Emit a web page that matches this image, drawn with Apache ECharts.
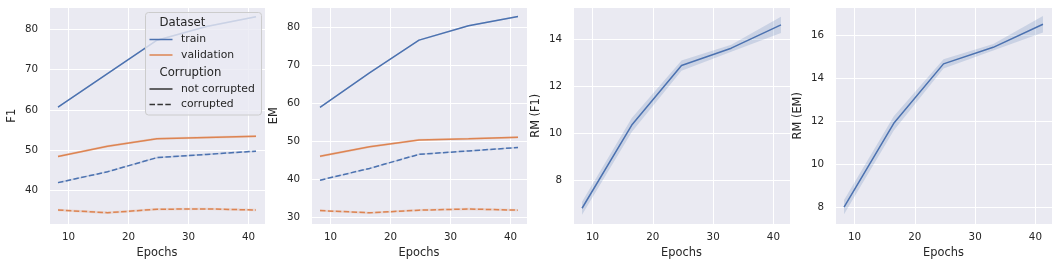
<!DOCTYPE html>
<html><head><meta charset="utf-8">
<script src="https://cdn.jsdelivr.net/npm/echarts@6/dist/echarts.min.js"></script>
<style>html,body{margin:0;padding:0;background:#fff}#c{width:1059px;height:268px}</style>
</head><body><div id="c"></div>
<script>
// ---- data ----
const epochs = [8.25, 16.5, 24.75, 33, 41.25];

const f1TrainClean = [60.7, 69.0, 77.3, 80.7, 83.1];
const f1ValClean   = [48.5, 51.0, 52.9, 53.2, 53.5];
const f1TrainCorr  = [42.0, 44.7, 48.2, 49.0, 49.8];
const f1ValCorr    = [35.2, 34.55, 35.4, 35.5, 35.2];

const emTrainClean = [58.9, 68.0, 76.6, 80.4, 82.8];
const emValClean   = [46.0, 48.5, 50.3, 50.6, 51.0];
const emTrainCorr  = [39.7, 42.8, 46.5, 47.4, 48.3];
const emValCorr    = [31.7, 31.1, 31.8, 32.1, 31.8];

const trainCI = [0.2, 0.2, 0.2, 0.2, 0.2];
const valCI   = [0.3, 0.3, 0.3, 0.3, 0.3];

const rmF1   = [6.81, 10.35, 12.88, 13.62, 14.61];
const rmF1CI = [0.28, 0.3, 0.22, 0.15, 0.35];
const rmEM   = [8.0, 11.9, 14.66, 15.43, 16.5];
const rmEMCI = [0.33, 0.33, 0.22, 0.15, 0.38];

const yNames = ['F1', 'EM', 'RM (F1)', 'RM (EM)'];
const xName = 'Epochs';
const datasetTitle = 'Dataset';
const corruptionTitle = 'Corruption';
const datasetLabels = ['train', 'validation'];
const corruptionLabels = ['not corrupted', 'corrupted'];

// ---- style ----
const BLUE = '#4C72B0', ORANGE = '#DD8452';
const BLUE_BAND = 'rgba(76,114,176,0.2)', ORANGE_BAND = 'rgba(221,132,82,0.2)';
const TXT = '#262626';
const FONT = 'DejaVu Sans';
const DASH = [5.5, 2.4];
const TICK_FS = 10.3, LABEL_FS = 11.4;

const gridLefts = [49, 311, 573, 835];
const gridWidths = [216, 216, 217, 217];
const yRanges = [[31.75, 85.4], [28.15, 85.2], [6.14, 15.35], [7.22, 17.28]];

const grids = gridLefts.map((l, i) => ({left: l, top: 7.5, width: gridWidths[i], height: 216.5, show: true, backgroundColor: '#EAEAF2', borderWidth: 0}));

const xAxes = gridLefts.map((l, i) => ({
  type: 'value', gridIndex: i, min: 6.75, max: 42.75,
  name: xName, nameLocation: 'middle', nameGap: 24,
  nameTextStyle: {color: TXT, fontFamily: FONT, fontSize: LABEL_FS},
  axisLine: {show: false}, axisTick: {show: false},
  axisLabel: {color: TXT, fontFamily: FONT, fontSize: TICK_FS, margin: 8, showMinLabel: false, showMaxLabel: false},
  splitLine: {show: true, lineStyle: {color: '#ffffff', width: 1}}
}));
const yAxes = gridLefts.map((l, i) => ({
  type: 'value', gridIndex: i, min: yRanges[i][0], max: yRanges[i][1],
  name: yNames[i], nameLocation: 'middle', nameGap: 31,
  nameTextStyle: {color: TXT, fontFamily: FONT, fontSize: LABEL_FS},
  axisLine: {show: false}, axisTick: {show: false},
  axisLabel: {color: TXT, fontFamily: FONT, fontSize: TICK_FS, margin: 11, showMinLabel: false, showMaxLabel: false},
  splitLine: {show: true, lineStyle: {color: '#ffffff', width: 1}}
}));

const series = [];
function addLine(ax, vals, ci, color, bandColor, dashed) {
  const bandData = epochs.map((e, i) => [e, vals[i] - ci[i], vals[i] + ci[i]]);
  series.push({
    type: 'custom', xAxisIndex: ax, yAxisIndex: ax, silent: true, z: 1,
    data: bandData, encode: {x: 0, y: [1, 2]},
    renderItem: function (params, api) {
      if (params.dataIndex !== 0) return null;
      const upper = bandData.map(d => api.coord([d[0], d[2]]));
      const lower = bandData.map(d => api.coord([d[0], d[1]])).reverse();
      return {type: 'polygon', shape: {points: upper.concat(lower)}, style: {fill: bandColor}};
    }
  });
  series.push({type: 'line', xAxisIndex: ax, yAxisIndex: ax, symbol: 'none', silent: true, z: 2,
    data: epochs.map((e, i) => [e, vals[i]]),
    lineStyle: {color: color, width: 1.5, type: dashed ? DASH : 'solid', cap: 'butt'}});
}
addLine(0, f1TrainClean, trainCI, BLUE, BLUE_BAND, false);
addLine(0, f1ValClean, valCI, ORANGE, ORANGE_BAND, false);
addLine(0, f1TrainCorr, trainCI, BLUE, BLUE_BAND, true);
addLine(0, f1ValCorr, valCI, ORANGE, ORANGE_BAND, true);
addLine(1, emTrainClean, trainCI, BLUE, BLUE_BAND, false);
addLine(1, emValClean, valCI, ORANGE, ORANGE_BAND, false);
addLine(1, emTrainCorr, trainCI, BLUE, BLUE_BAND, true);
addLine(1, emValCorr, valCI, ORANGE, ORANGE_BAND, true);
addLine(2, rmF1, rmF1CI, BLUE, BLUE_BAND, false);
addLine(3, rmEM, rmEMCI, BLUE, BLUE_BAND, false);

// ---- legend (drawn as graphic) ----
const tx = (t, x, y, fs) => ({type: 'text', z: 100, x: x, y: y, style: {text: t, fill: TXT, font: fs + 'px "DejaVu Sans"', verticalAlign: 'middle', textVerticalAlign: 'middle'}});
const ln = (y, color, dashed) => ({type: 'line', z: 100, shape: {x1: 149.5, y1: y, x2: 172.5, y2: y}, style: {stroke: color, lineWidth: 1.5, lineDash: dashed ? DASH : null}});
const legendEls = [
  {type: 'rect', z: 99, shape: {x: 145.5, y: 12.5, width: 116, height: 102.5, r: 3}, style: {fill: 'rgba(234,234,242,0.8)', stroke: '#cccccc', lineWidth: 1}},
  tx(datasetTitle, 159.5, 22.5, 11.7),
  ln(39.5, BLUE, false), tx(datasetLabels[0], 181, 39.5, 10.8),
  ln(55, ORANGE, false), tx(datasetLabels[1], 181, 55, 10.8),
  tx(corruptionTitle, 159.5, 72.5, 11.7),
  ln(89, '#333333', false), tx(corruptionLabels[0], 181, 89, 10.8),
  ln(104.5, '#333333', true), tx(corruptionLabels[1], 181, 104.5, 10.8)
];

const chart = echarts.init(document.getElementById('c'), null, {renderer: 'canvas'});
chart.setOption({
  animation: false,
  backgroundColor: '#ffffff',
  textStyle: {fontFamily: FONT},
  grid: grids, xAxis: xAxes, yAxis: yAxes, series: series,
  graphic: legendEls
});
</script></body></html>
